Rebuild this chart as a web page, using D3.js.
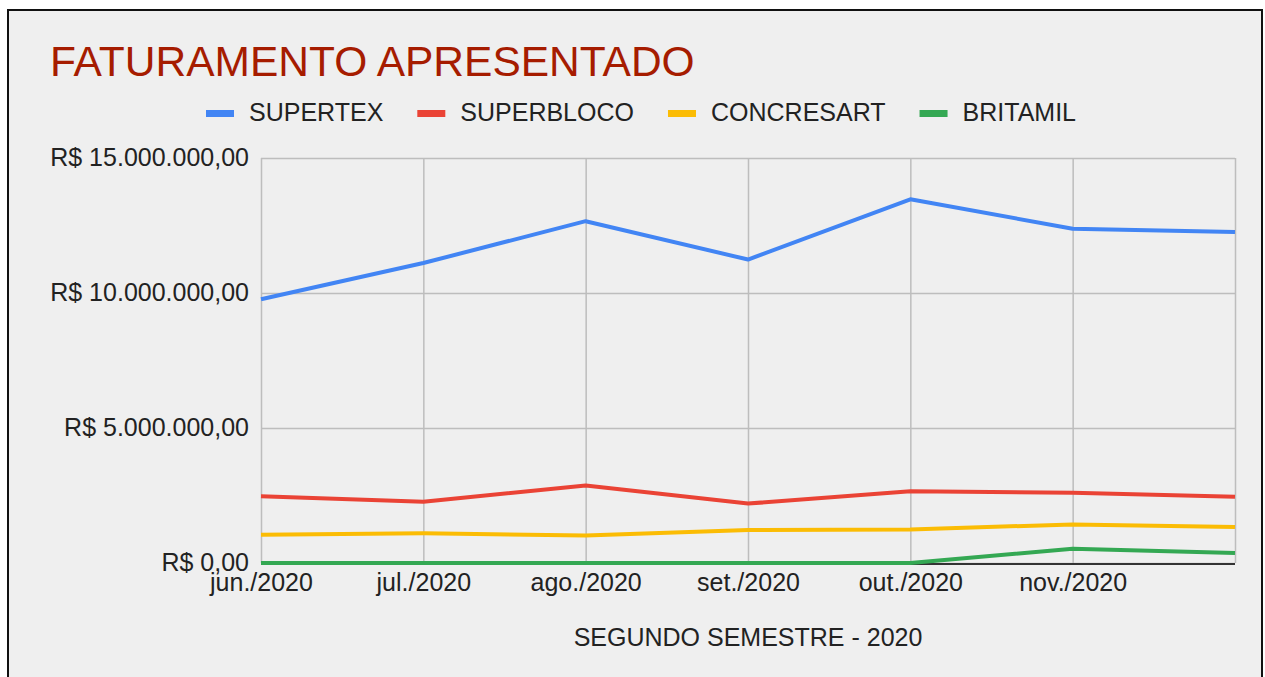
<!DOCTYPE html>
<html><head><meta charset="utf-8">
<script src="https://cdn.jsdelivr.net/npm/d3@7"></script>
<style>
html,body{margin:0;padding:0;background:#fff;}
svg{display:block;font-family:"Liberation Sans",Arial,sans-serif;}
</style></head>
<body>
<svg id="chart" width="1265" height="677"></svg>
<script>
const months = ["jun./2020","jul./2020","ago./2020","set./2020","out./2020","nov./2020","dez./2020"];
const tickLabels = ["jun./2020","jul./2020","ago./2020","set./2020","out./2020","nov./2020"];
const seriesNames = ["SUPERTEX","SUPERBLOCO","CONCRESART","BRITAMIL"];
const supertex   = [9770000,11110000,12660000,11240000,13470000,12380000,12260000];
const superbloco = [2470000,2270000,2870000,2200000,2660000,2600000,2450000];
const concresart = [1050000,1100000,1020000,1220000,1240000,1430000,1330000];
const britamil   = [0,0,0,0,0,530000,370000];
const yTicks = [0,5000000,10000000,15000000];
const colors = ["#4285f4","#ea4335","#fbbc04","#34a853"];
const seriesValues = [supertex, superbloco, concresart, britamil];

(function(){
const svg = d3.select("#chart");
// card
svg.append("rect").attr("x",8).attr("y",10).attr("width",1254).attr("height",680)
  .attr("fill","#efefef").attr("stroke","#111").attr("stroke-width",2);

const pL = 261, pR = 1235, pT = 158, pB = 563;
const x = d3.scalePoint().domain(months).range([pL,pR]);
const y = d3.scaleLinear().domain([0,15000000]).range([pB,pT]);

const fmt = v => "R$ " + d3.format(",.2f")(v).replace(/,/g,"#").replace(/\./g,",").replace(/#/g,".");

// title
svg.append("text").attr("x",50).attr("y",76).attr("font-size",42.5).attr("fill","#a61c00")
  .text("FATURAMENTO APRESENTADO");

// legend
let lx = 206;
seriesNames.forEach((n,i)=>{
  svg.append("rect").attr("x",lx).attr("y",110).attr("width",28).attr("height",7).attr("fill",colors[i]);
  const t = svg.append("text").attr("x",lx+43).attr("y",121).attr("font-size",25).attr("fill","#222").text(n);
  const w = t.node().getComputedTextLength();
  lx = lx + 43 + w + 34;
});

// horizontal grid
const gy = svg.append("g").attr("transform",`translate(${pL},0)`)
  .call(d3.axisLeft(y).tickValues(yTicks).tickSize(-(pR-pL)).tickFormat(fmt).tickPadding(12));
gy.select(".domain").remove();
gy.selectAll(".tick line").attr("stroke","#bdbdbd").attr("stroke-width",1.5);
gy.selectAll(".tick text").attr("font-size",25).attr("fill","#222").attr("font-family","Liberation Sans, Arial, sans-serif").attr("dy","0.3em");

// vertical grid
const gx = svg.append("g").attr("transform",`translate(0,${pB})`)
  .call(d3.axisBottom(x).tickSize(-(pB-pT)).tickFormat(d => tickLabels.includes(d) ? d : "").tickPadding(10));
gx.select(".domain").remove();
gx.selectAll(".tick line").attr("stroke","#bdbdbd").attr("stroke-width",1.5);
gx.selectAll(".tick text").attr("font-size",25).attr("fill","#222").attr("font-family","Liberation Sans, Arial, sans-serif");

// baseline
svg.append("line").attr("x1",pL).attr("x2",pR).attr("y1",pB+1).attr("y2",pB+1)
  .attr("stroke","#333").attr("stroke-width",2);

// lines
const line = d3.line().x((d,i)=>x(months[i])).y(d=>y(d));
seriesValues.forEach((vals,i)=>{
  svg.append("path").datum(vals).attr("d",line).attr("fill","none")
    .attr("stroke",colors[i]).attr("stroke-width",4).attr("stroke-linejoin","round");
});

// axis title
svg.append("text").attr("x",748).attr("y",646).attr("text-anchor","middle").attr("font-size",25)
  .attr("fill","#222").text("SEGUNDO SEMESTRE - 2020");
})();
</script>
</body></html>
